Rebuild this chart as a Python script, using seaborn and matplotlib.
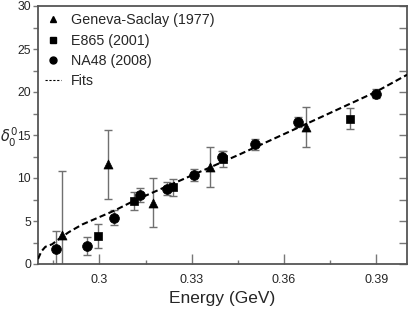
import numpy as np
import pandas as pd
import matplotlib
matplotlib.use("Agg")
import matplotlib.pyplot as plt
from matplotlib.lines import Line2D
import seaborn as sns

# Geneva-Saclay (1977)
gs_energy = [0.2877, 0.3027, 0.3173, 0.3359, 0.3671]
gs_delta = [3.4, 11.6, 7.1, 11.3, 15.9]
gs_err = [7.4, 4.0, 2.85, 2.3, 2.3]

# E865 (2001)
e865_energy = [0.2994, 0.3111, 0.3239, 0.3402, 0.3816]
e865_delta = [3.3, 7.3, 8.9, 12.2, 16.9]
e865_err = [1.4, 1.05, 0.95, 0.9, 1.2]

# NA48 (2008)
na48_energy = [0.2859, 0.2959, 0.3048, 0.3133, 0.3219, 0.3306, 0.3400, 0.3507, 0.3645, 0.3898]
na48_delta = [1.8, 2.1, 5.4, 8.0, 8.75, 10.3, 12.5, 13.9, 16.5, 19.8]
na48_err = [2.0, 1.05, 0.9, 0.8, 0.75, 0.7, 0.6, 0.6, 0.55, 0.55]

# fit curve
fit_energy = [0.2800, 0.2811, 0.2824, 0.2846, 0.2868, 0.2900, 0.2944, 0.3048,
              0.3115, 0.3300, 0.3456, 0.3673, 0.3898, 0.4000]
fit_delta = [0.58, 1.47, 2.0, 2.3, 2.9, 3.7, 4.6, 6.2,
             7.4, 10.3, 12.75, 16.3, 20.0, 22.0]

labels = ["Geneva-Saclay (1977)", "E865 (2001)", "NA48 (2008)"]
markers = {"Geneva-Saclay (1977)": "^", "E865 (2001)": "s", "NA48 (2008)": "o"}
sizes = {"Geneva-Saclay (1977)": 42, "E865 (2001)": 36, "NA48 (2008)": 50}

df = pd.concat([
    pd.DataFrame({"energy": gs_energy, "delta": gs_delta, "err": gs_err, "exp": labels[0]}),
    pd.DataFrame({"energy": e865_energy, "delta": e865_delta, "err": e865_err, "exp": labels[1]}),
    pd.DataFrame({"energy": na48_energy, "delta": na48_delta, "err": na48_err, "exp": labels[2]}),
])
fit = pd.DataFrame({"energy": fit_energy, "delta": fit_delta})

sns.set_theme(style="ticks")
plt.rcParams["font.family"] = ["Liberation Sans", "DejaVu Sans"]
plt.rcParams["mathtext.fontset"] = "dejavusans"

fig = plt.figure(figsize=(4.09, 3.11), dpi=100)
ax = fig.add_axes([38 / 409, 47 / 311, 369 / 409, 258 / 311])

# Error bars
ax.errorbar(df["energy"], df["delta"], yerr=df["err"], fmt="none",
            ecolor="#707070", elinewidth=1.0, capsize=3, capthick=1.0, zorder=2)

# Fit
sns.lineplot(data=fit, x="energy", y="delta", ax=ax, color="black",
             linewidth=1.5, linestyle=(0, (3, 1.6)), zorder=3)

# Points
for lab in labels:
    sub = df[df["exp"] == lab]
    sns.scatterplot(data=sub, x="energy", y="delta", ax=ax, marker=markers[lab],
                    s=sizes[lab], color="black", edgecolor="black", linewidth=0.5,
                    zorder=4, legend=False)

ax.set_xlim(0.28, 0.40)
ax.set_ylim(0, 30)
ax.set_xticks([0.30, 0.33, 0.36, 0.39])
ax.set_xticklabels(["0.3", "0.33", "0.36", "0.39"])
ax.set_xticks(np.arange(0.285, 0.40, 0.03), minor=True)
ax.set_yticks(np.arange(0, 31, 5))
ax.set_yticks(np.arange(2.5, 30, 5), minor=True)

for s in ax.spines.values():
    s.set_color("#555555")
    s.set_linewidth(1.3)

ax.tick_params(axis="x", which="major", direction="in", length=7, width=1, color="#777777",
               labelsize=9, pad=7)
ax.tick_params(axis="x", which="minor", direction="in", length=3, width=1, color="#777777")
ax.tick_params(axis="y", which="both", direction="out", length=3.5, width=1, color="#777777",
               labelsize=8.8, pad=1.5)

# right side ticks point inward
right = ax.secondary_yaxis("right")
right.set_yticks(np.arange(0, 31, 5))
right.set_yticks(np.arange(2.5, 30, 5), minor=True)
right.tick_params(which="both", direction="in", length=6, width=1, color="#777777",
                  labelright=False)
right.spines["right"].set_visible(False)

ax.set_xlabel("Energy (GeV)", fontsize=12.5, labelpad=4)
ax.set_ylabel(r"$\delta_0^0$", fontsize=10.5, rotation=0, va="center", ha="left")
ax.yaxis.set_label_coords(-38 / 369, 0.49)

handles = [
    Line2D([], [], marker="^", color="black", linestyle="none", markersize=5),
    Line2D([], [], marker="s", color="black", linestyle="none", markersize=4.5),
    Line2D([], [], marker="o", color="black", linestyle="none", markersize=5),
    Line2D([], [], color="black", linewidth=0.8, linestyle=(0, (2, 1.5))),
]
ax.legend(handles, labels + ["Fits"], loc="upper left", frameon=False, fontsize=10.3,
          handlelength=1.1, handletextpad=0.7, labelspacing=0.45,
          bbox_to_anchor=(0.0, 1.0), borderaxespad=0.1)

fig.savefig("out.png", dpi=100)
